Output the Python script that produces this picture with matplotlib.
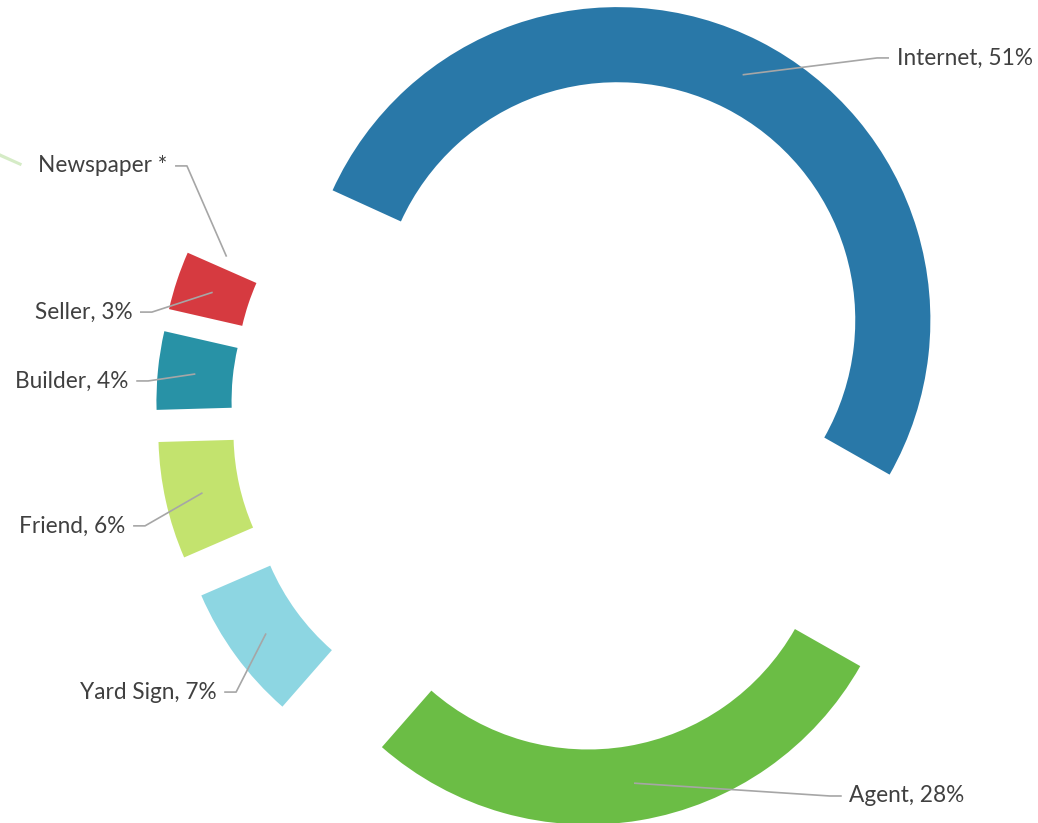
import numpy as np
import matplotlib
matplotlib.use("Agg")
import matplotlib.pyplot as plt

# Where buyers found their home
categories = ['Internet', 'Agent', 'Yard Sign', 'Friend', 'Builder', 'Seller', 'Newspaper']
values = [51, 28, 7, 6, 4, 3, 0.2]
colors = ['#2978a8', '#6bbd45', '#8dd6e2', '#c3e36e', '#2892a6', '#d63a40', '#b9dfa0']

# label anchor (where the leader line turns horizontal), in pie units
label_pos = [(0.978, 1.128), (0.827, -1.230), (-1.070, -0.898), (-1.361, -0.367),
             (-1.351, 0.096), (-1.339, 0.316), (-1.227, 0.783)]

W, H = 1038, 823
CX, CY = 571, 411      # pie centre in pixels (from top left)
R_PX = 313             # outer radius in pixels
RING = 0.24            # ring width as a fraction of the radius
EXPLODE = 0.326


def make_chart():
    plt.rcParams['font.family'] = ['Lato', 'DejaVu Sans']
    fig = plt.figure(figsize=(W / 100, H / 100), dpi=100)
    ax = fig.add_axes([0, 0, 1, 1])

    explode = [EXPLODE] * len(values)
    explode[-1] = 1.164  # newspaper slice pulled way out, mostly off the page

    wedges, _ = ax.pie(values, explode=explode, colors=colors, startangle=155.5,
                       counterclock=False, radius=1,
                       wedgeprops=dict(width=RING, linewidth=0))
    wedges[-1].set_alpha(0.6)

    ax.set_xlim(-CX / R_PX, (W - CX) / R_PX)
    ax.set_ylim(-(H - CY) / R_PX, CY / R_PX)
    ax.set_aspect('equal')
    ax.axis('off')

    for w, name, v, (lx, ly) in zip(wedges, categories, values, label_pos):
        mid = np.deg2rad((w.theta1 + w.theta2) / 2)
        # leader starts in the middle of the ring, at the normal explode distance
        r0 = EXPLODE + 1 - RING / 2
        sx, sy = r0 * np.cos(mid), r0 * np.sin(mid)
        side = 1 if lx > 0 else -1
        ex = lx + side * 0.038
        ax.plot([sx, lx, ex], [sy, ly, ly], color='#a6a6a6', lw=1.2,
                solid_capstyle='butt', zorder=3)
        if name == 'Newspaper':
            txt = 'Newspaper *'
        else:
            txt = f'{name}, {v:g}%'
        ax.text(ex + side * 0.024, ly, txt, ha='left' if side > 0 else 'right',
                va='center', fontsize=16.3, color='#404040')

    plt.savefig('out.png', dpi=100, facecolor='white')
    plt.close()


if __name__ == "__main__":
    make_chart()
